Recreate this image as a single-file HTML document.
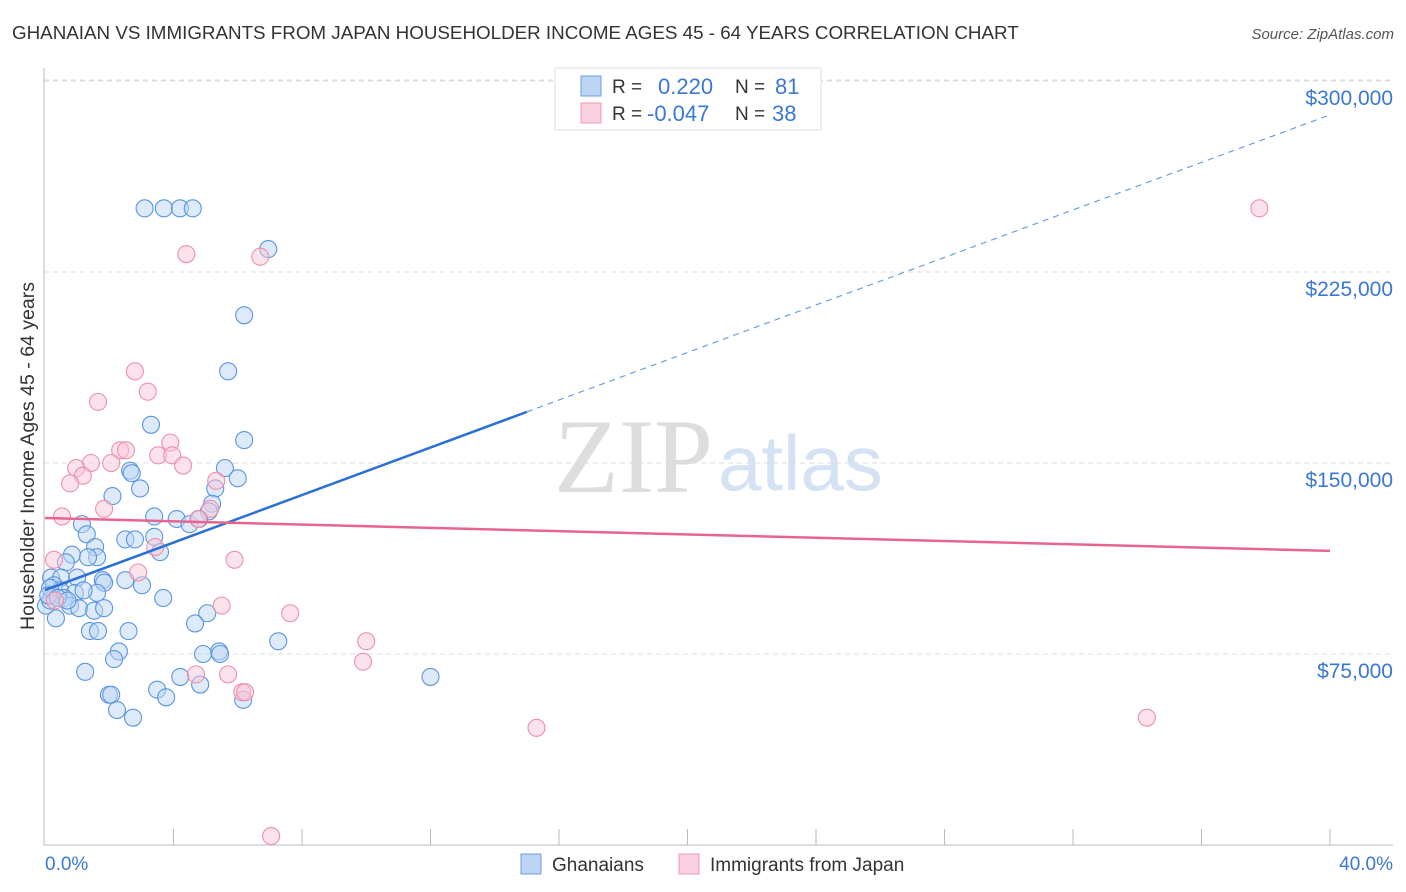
<!DOCTYPE html>
<html><head><meta charset="utf-8"><style>
body{margin:0;background:#fff;font-family:"Liberation Sans",sans-serif;}
#wrap{position:relative;width:1406px;height:892px;overflow:hidden;}
</style></head><body>
<div id="wrap">
<svg id="svg" width="1406" height="892" xmlns="http://www.w3.org/2000/svg">
<text x="12" y="39" font-size="18.8" fill="#333">GHANAIAN VS IMMIGRANTS FROM JAPAN HOUSEHOLDER INCOME AGES 45 - 64 YEARS CORRELATION CHART</text>
<text x="1394" y="39" font-size="15" fill="#555" font-style="italic" text-anchor="end">Source: ZipAtlas.com</text>
<text x="713" y="492" font-size="106" fill="#ddd" font-family="Liberation Serif,serif" text-anchor="end">ZIP</text>
<text x="718" y="490" font-size="78" fill="#d4e2f4">atlas</text>
<g id="grid"></g>
<line x1="44" y1="68" x2="44" y2="845" stroke="#bbb"/>
<line x1="44" y1="845" x2="1393" y2="845" stroke="#bbb"/>
<g id="marks"></g>
<text x="34" y="456" font-size="19.5" fill="#333" text-anchor="middle" transform="rotate(-90 34 456)">Householder Income Ages 45 - 64 years</text>
<text x="45" y="870" font-size="19" fill="#3a78d4">0.0%</text>
<text x="1393" y="870" font-size="19" fill="#3a78d4" text-anchor="end">40.0%</text>
<g>
<rect x="555" y="68" width="266" height="62" fill="#fff" stroke="#ddd"/>
<rect x="581" y="76" width="20" height="20" fill="#bcd5f5" stroke="#6a9ee0"/>
<rect x="581" y="103" width="20" height="20" fill="#fbd0dd" stroke="#ec9ab4"/>
<text x="612" y="93" font-size="19" fill="#333">R =</text><text x="658" y="94" font-size="22" fill="#3a78d4">0.220</text>
<text x="735" y="93" font-size="19" fill="#333">N =</text><text x="775" y="94" font-size="22" fill="#3a78d4">81</text>
<text x="612" y="120" font-size="19" fill="#333">R =</text><text x="647" y="121" font-size="22" fill="#3a78d4">-0.047</text>
<text x="735" y="120" font-size="19" fill="#333">N =</text><text x="772" y="121" font-size="22" fill="#3a78d4">38</text>
</g>
<g>
<rect x="521" y="854" width="20" height="20" fill="#bcd5f5" stroke="#6a9ee0"/>
<text x="552" y="871" font-size="19" fill="#333">Ghanaians</text>
<rect x="679" y="854" width="20" height="20" fill="#fbd0dd" stroke="#ec9ab4"/>
<text x="710" y="871" font-size="19" fill="#333">Immigrants from Japan</text>
</g>
</svg>
</div>
<script>
const yTicks=[75000,150000,225000,300000];
const yTickLabels=["$75,000","$150,000","$225,000","$300,000"];
const xTicks=[4,8,12,16,20,24,28,32,36,40];
const blueX=[3.1,3.7,4.2,4.6,6.95,6.2,5.7,3.3,6.2,2.65,2.7,5.6,6.0,2.96,2.1,5.3,5.2,5.1,3.4,4.1,4.5,4.8,1.15,1.3,2.5,2.8,3.4,1.56,0.84,1.62,0.65,1.34,3.58,0.19,0.5,1.0,1.8,2.5,1.84,0.28,0.47,0.93,1.62,3.02,0.22,0.59,0.78,1.06,1.53,1.84,0.34,3.68,5.05,4.67,1.4,1.65,2.6,7.26,2.3,2.15,4.92,5.42,5.45,1.25,4.21,12.0,3.49,1.99,2.06,3.77,4.83,6.17,2.24,2.74,0.03,0.16,0.16,0.1,0.4,0.7,1.2];
const blueY=[250,250,250,250,234,208,186,165,159,147,146,148,144,140,137,140,134,131,129,128,126,128,126,122,120,120,121,117,114,113,111,113,115,105,105,105,104,104,103,102,100,99,99,102,98,97,94,93,92,93,89,97,91,87,84,84,84,80,76,73,75,76,75,68,66,66,61,59,59,58,63,57,53,50,94,96,101,98,97,96,100];
const pinkX=[37.8,4.4,6.7,2.8,3.2,1.65,3.9,2.34,2.52,3.52,3.96,1.43,0.97,4.3,2.06,1.18,0.78,5.33,1.84,5.14,4.77,0.53,3.43,0.28,5.9,2.9,0.31,5.5,7.63,10.0,9.9,4.7,5.7,6.14,6.23,15.3,34.3,7.04];
const pinkY=[250,232,231,186,178,174,158,155,155,153,153,150,148,149,150,145,142,143,132,132,128,129,117,112,112,107,96,94,91,80,72,67,67,60,60,46,50,3.5];
const blueLine=[100.1,286.7];   // y (k$) at x=0 and x=40
const blueSolidEnd=15.0;
const pinkLine=[128.4,115.5];

const X=v=>45+v*32.125;
const Y=v=>845-v*191/75;
const NS="http://www.w3.org/2000/svg";
function mk(t,a,p){const e=document.createElementNS(NS,t);for(const k in a)e.setAttribute(k,a[k]);p.appendChild(e);return e;}
const grid=document.getElementById('grid'),marks=document.getElementById('marks');
yTicks.forEach((t,i)=>{
 const y=Y(t/1000);
 const l=mk('line',{x1:44,x2:1393,y1:y,y2:y,stroke:'#ddd','stroke-dasharray':'5,4'},grid);
 
 
 const tx=mk('text',{x:1393,y:y+24,'font-size':21,fill:'#3a78d4','text-anchor':'end'},grid);
 tx.textContent=yTickLabels[i];
 
 
});
{const l=mk('line',{x1:44,x2:1393,y1:80,y2:80,stroke:'#ddd','stroke-dasharray':'5,4'},grid);
 
 }
xTicks.forEach(t=>{
 const l=mk('line',{x1:X(t),x2:X(t),y1:829,y2:845,stroke:'#bbb'},grid);
 
 
});
function dots(xs,ys,fill,stroke,name){
 xs.forEach((x,i)=>{
  const c=mk('circle',{cx:X(x),cy:Y(ys[i]),r:8.5,fill:fill,'fill-opacity':0.5,stroke:stroke,'stroke-width':1.1},marks);
  
  
 });
}
dots(blueX,blueY,'#bcd5f5','#5a95e0','ghanaian-point');
dots(pinkX,pinkY,'#f9c6d6','#ec90ad','japan-point');
const bAt=x=>blueLine[0]+(blueLine[1]-blueLine[0])*x/40;
let l=mk('line',{x1:X(0),y1:Y(bAt(0)),x2:X(blueSolidEnd),y2:Y(bAt(blueSolidEnd)),stroke:'#2a6fd6','stroke-width':2.5},marks);


l=mk('line',{x1:X(blueSolidEnd),y1:Y(bAt(blueSolidEnd)),x2:X(40),y2:Y(bAt(40)),stroke:'#6a9ee0','stroke-width':1.2,'stroke-dasharray':'6,5'},marks);


l=mk('line',{x1:X(0),y1:Y(pinkLine[0]),x2:X(40),y2:Y(pinkLine[1]),stroke:'#e8648f','stroke-width':2.5},marks);


</script>
</body></html>
